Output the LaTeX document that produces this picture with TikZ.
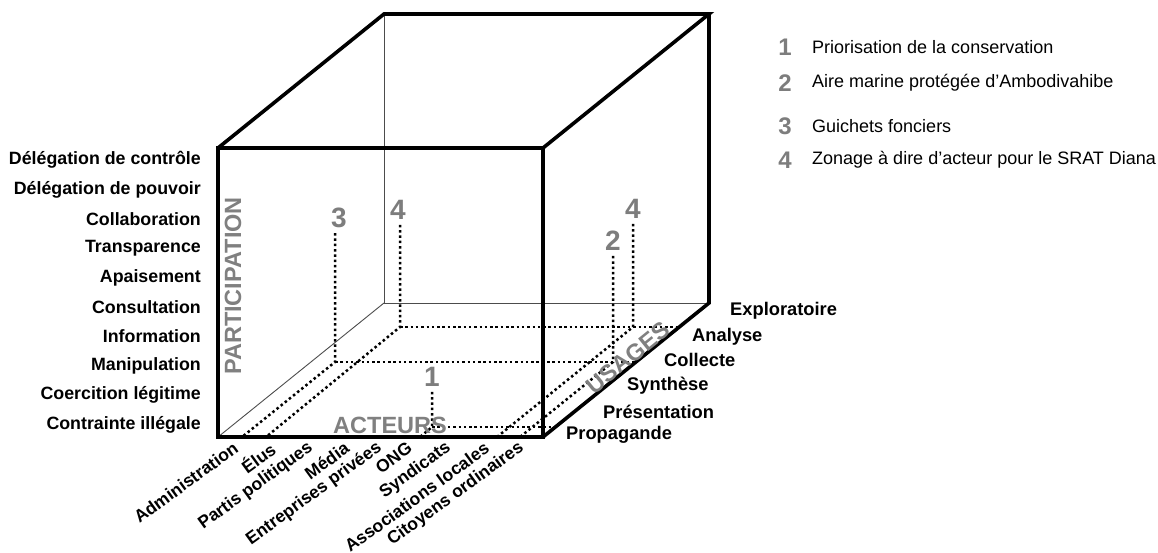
\documentclass[tikz,border=0pt]{standalone}
\usepackage{fontspec}
\setmainfont{Liberation Sans}
\definecolor{axisgray}{RGB}{128,128,128}
\definecolor{casegray}{RGB}{125,125,125}

\begin{document}
\begin{tikzpicture}[x=1pt,y=-1pt,
  bold edge/.style={line width=3.6pt},
  thin edge/.style={line width=0.9pt,black!70},
  dotline/.style={line width=2.5pt,dash pattern=on 2.5pt off 2.8pt},
  level/.style={anchor=east,inner sep=0pt,font=\fontsize{17.8}{20}\selectfont\bfseries},
  usage/.style={anchor=west,inner sep=0pt,font=\fontsize{18.3}{20}\selectfont\bfseries},
  actor/.style={anchor=east,rotate=36,inner sep=0pt,font=\fontsize{17.5}{20}\selectfont\bfseries},
  axis/.style={text=axisgray,inner sep=0pt,font=\fontsize{23.5}{26}\selectfont\bfseries},
  case/.style={text=casegray,inner sep=5pt,font=\fontsize{28}{30}\selectfont\bfseries},
  keynum/.style={text=casegray,inner sep=0pt,font=\fontsize{24}{26}\selectfont\bfseries},
  keytext/.style={anchor=west,inner sep=0pt,font=\fontsize{18}{20}\selectfont}]
 \useasboundingbox (0,0) rectangle (1158,553);

 % cube corners
 \coordinate (fbl) at (218,437); \coordinate (fbr) at (543,437);
 \coordinate (ftl) at (218,148); \coordinate (ftr) at (543,148);
 \coordinate (bbl) at (384,303); \coordinate (bbr) at (709,303);
 \coordinate (btl) at (384,14);  \coordinate (btr) at (709,14);

 % hidden edges
 \draw[thin edge] (btl)--(bbl)--(bbr);
 \draw[thin edge] (fbl)--(bbl);

 % cases and their feet on the floor
 \node[case] (n3) at (339,218) {3};
 \node[case] (n4a) at (398,210) {4};
 \node[case] (n2) at (613,241) {2};
 \node[case] (n4b) at (633,209) {4};
 \node[case] (n1) at (432,377) {1};

 \coordinate (f3) at (335,362);  \coordinate (f3a) at (242,437); \coordinate (f3u) at (636,362);
 \coordinate (f4a) at (400,327); \coordinate (f4aa) at (266,437); \coordinate (f4au) at (679,327);
 \coordinate (f2) at (613,362);  \coordinate (f2a) at (520,437);
 \coordinate (f4b) at (633,327); \coordinate (f4ba) at (497,437);
 \coordinate (f1) at (432,427);  \coordinate (f1a) at (420,437); \coordinate (f1u) at (555,427);

 \draw[dotline] (n3.south -| f3)--(f3)--(f3a);
 \draw[dotline] (f3)--(f3u);
 \draw[dotline] (n4a.south -| f4a)--(f4a)--(f4aa);
 \draw[dotline] (f4a)--(f4au);
 \draw[dotline] (n2.south -| f2)--(f2)--(f2a);
 \draw[dotline] (n4b.south -| f4b)--(f4b)--(f4ba);
 \draw[dotline] (n1.south -| f1)--(f1)--(f1a);
 \draw[dotline] (f1)--(f1u);

 % visible edges
 \draw[bold edge] (fbl) rectangle (ftr);
 \draw[bold edge] (ftl)--(btl)--(btr)--(ftr);
 \draw[bold edge] (btr)--(bbr)--(fbr);

 % axes
 \node[axis,rotate=90] (participation) at (233,286) {PARTICIPATION};
 \node[axis] (acteurs) at (390,425) {ACTEURS};
 \node[axis,rotate=39] (usages) at (628,358) {USAGES};

 \foreach \t [count=\i from 0] in {Délégation de contrôle,Délégation de pouvoir,Collaboration,Transparence,Apaisement,Consultation,Information,Manipulation,Coercition légitime,Contrainte illégale}
  \node[level] (lvl\i) at (201,160+29.4*\i) {\t};

 \node[usage] (u1) at (730,311) {Exploratoire};
 \node[usage] (u2) at (692,337) {Analyse};
 \node[usage] (u3) at (664,360) {Collecte};
 \node[usage] (u4) at (627,386) {Synthèse};
 \node[usage] (u5) at (603,412) {Présentation};
 \node[usage] (u6) at (566,435) {Propagande};

 \foreach \t/\x [count=\i] in {Administration/236,Élus/273,Partis politiques/311,Média/347,Entreprises privées/380,ONG/410,Syndicats/449,Associations locales/487,Citoyens ordinaires/522}
  \node[actor] (act\i) at (\x,446) {\t};

 % legend
 \node[keynum] (k1) at (785,47) {1};
 \node[keytext] (t1) at (812,47) {Priorisation de la conservation};
 \node[keynum] (k2) at (785,83) {2};
 \node[keytext] (t2) at (812,83) {Aire marine protégée d’Ambodivahibe};
 \node[keynum] (k3) at (785,126) {3};
 \node[keytext] (t3) at (812,126) {Guichets fonciers};
 \node[keynum] (k4) at (785,160) {4};
 \node[keytext] (t4) at (812,160) {Zonage à dire d’acteur pour le SRAT Diana};
\end{tikzpicture}
\end{document}
